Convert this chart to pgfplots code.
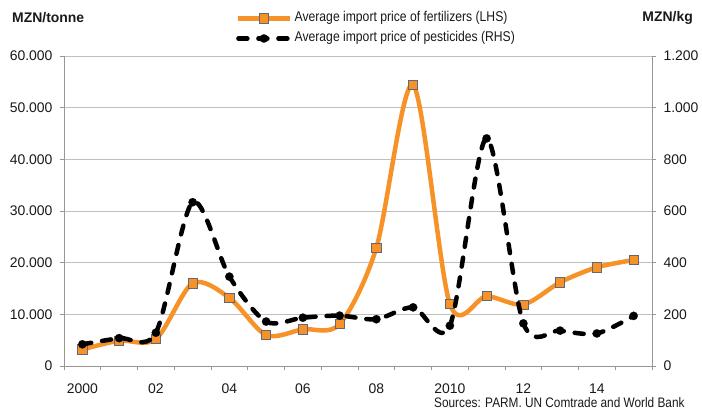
\documentclass[border=0pt]{standalone}
\usepackage{fontspec}
\setmainfont{Liberation Sans}
\newfontfamily\narrowfont{Liberation Sans}[FakeStretch=0.86]
\usepackage{pgfplots}
\usepackage{pgfplotstable}
\pgfplotsset{compat=1.18}
\definecolor{forange}{RGB}{247,146,40}
\definecolor{mborder}{RGB}{95,105,120}
\definecolor{gridgray}{RGB}{191,191,191}
\definecolor{axgray}{RGB}{150,150,150}
\definecolor{txt}{RGB}{25,25,25}

\pgfplotstableread{
x fert pest
0 3200 84
1 4900 108
2 5200 129
3 16000 634
4 13200 346
5 6000 172
6 7100 187
7 8100 195
8 22900 181
9 54400 227
10 12000 156
11 13500 881
12 11900 165
13 16200 137
14 19100 126
15 20500 194
}\data

\pgfplotsset{
  base/.style={
    scale only axis, width=588bp, height=310bp,
    at={(0,0)}, anchor=south west,
    xmin=-0.5, xmax=15.5, ymin=0,
    tick label style={font=\fontsize{14}{16}\selectfont, text=txt},
    /pgf/number format/assume math mode=true,
    /pgf/number format/1000 sep={.},
    scaled y ticks=false,
    tick align=outside,
    major tick length=4bp,
    tick style={axgray, line width=0.8bp},
    axis line style={axgray, line width=0.8bp},
  },
  fert/.style={forange, line width=4.5bp, smooth, tension=0.5,
    mark=square*, mark size=4.6bp,
    mark options={fill=forange, draw=mborder, line width=0.8bp, solid}},
  pest/.style={black, line width=4.5bp, smooth, tension=0.5, line cap=round,
    dash pattern=on 9bp off 11bp,
    mark=*, mark size=4.2bp, mark options={fill=black, draw=black, solid, line width=0.1bp}},
}

\begin{document}
\begin{tikzpicture}
\begin{axis}[base,
  ymax=60000, ytick={0,10000,...,60000},
  ymajorgrids, grid style={gridgray, line width=0.8bp},
  axis y line*=left, axis x line*=bottom,
  xtick={-0.5,0.5,...,15.5}, xticklabels={},
  extra x ticks={0,2,...,14},
  extra x tick labels={2000,02,04,06,08,2010,12,14},
  extra x tick style={major tick length=0pt, xticklabel style={yshift=-14bp}},
  yticklabel style={xshift=-4bp},
]
\addplot[fert] table[x=x, y=fert] {\data};
\end{axis}
\begin{axis}[base,
  ymax=1200, ytick={0,200,...,1200},
  axis y line*=right, axis x line=none,
  yticklabel style={xshift=4bp},
  legend style={draw=none, fill=none, inner sep=0pt, anchor=north west,
    at={(0.2925,1.1426)}, row sep=7bp, column sep=3bp,
    font=\narrowfont\fontsize{14.2}{16}\selectfont,
    nodes={inner sep=0pt, text height=10bp, text depth=3bp, text=txt}},
  legend cell align=left,
  legend image code/.code={\draw[mark repeat=2, mark phase=2, #1] plot coordinates {(0bp,0bp) (25.5bp,0bp) (51bp,0bp)};},
]
\addlegendimage{fert}
\addlegendentry{Average import price of fertilizers (LHS)}
\addplot[pest] table[x=x, y=pest] {\data};
\addlegendentry{Average import price of pesticides (RHS)}
\end{axis}
\node[anchor=west, font=\bfseries\fontsize{14}{16}\selectfont, text=txt, inner sep=0pt] at (-52bp,348bp) {MZN/tonne};
\node[anchor=east, font=\bfseries\fontsize{14}{16}\selectfont, text=txt, inner sep=0pt] at (629bp,348bp) {MZN/kg};
\node[anchor=west, font=\narrowfont\fontsize{13.8}{16}\selectfont, text=txt, inner sep=0pt] at (370bp,-37bp) {Sources: PARM. UN Comtrade and World Bank};
\pgfresetboundingbox
\path[use as bounding box] (-64bp,-45bp) rectangle (638bp,366bp);
\end{tikzpicture}
\end{document}
